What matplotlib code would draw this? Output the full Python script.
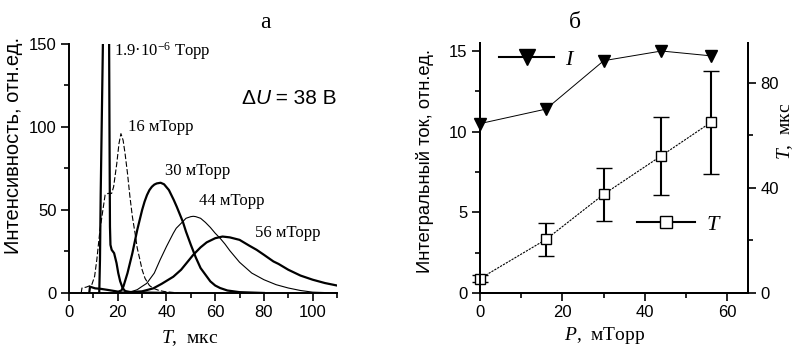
import matplotlib
matplotlib.use('Agg')
from matplotlib import pyplot as plt
from matplotlib.lines import Line2D
from matplotlib.ticker import MultipleLocator

plt.rcParams['font.family'] = ['Liberation Sans', 'DejaVu Sans']
plt.rcParams['mathtext.fontset'] = 'custom'
plt.rcParams['mathtext.rm'] = 'Liberation Serif'
plt.rcParams['mathtext.it'] = 'Liberation Serif:italic'

SERIF = ['Liberation Serif', 'DejaVu Serif']

# --- panel a: time-of-flight spectra ---
t_vac = [12.4, 12.7, 13.0, 13.4, 13.8, 14.1, 14.8, 15.8, 16.4, 16.6, 16.8, 17.0, 17.5,
         18.5, 19.5, 20.2, 21.0, 22.0, 23.0, 25.0, 30.0, 40.0]
i_vac = [0, 20, 60, 100, 140, 170, 400, 400, 170, 100, 40, 29, 26,
         24, 18, 12, 7, 3, 1.2, 0.6, 0.3, 0]

t_16 = [5.0, 5.3, 7.0, 9.3, 10.5, 11.4, 12.7, 14.1, 14.8, 16.0, 17.5, 18.3, 19.6, 20.5,
        21.3, 22.2, 23.0, 24.0, 25.0, 26.0, 27.1, 28.0, 29.1, 30.0, 31.2, 33.0, 34.6,
        37.0, 39.4, 45.0]
i_16 = [0, 3, 3.5, 4.8, 10, 20, 38, 52, 59, 60, 60, 64, 78, 90,
        96, 92, 84, 72, 58, 46, 36, 27, 20, 14, 8.8, 4.5, 2.8,
        1.5, 0.8, 0]

t_30 = [8.3, 8.6, 10.7, 13.0, 16.1, 20.2, 21.5, 22.3, 24.0, 26.0, 27.0, 28.0, 29.0, 30.0,
        31.0, 32.0, 33.0, 34.0, 35.0, 36.0, 37.6, 39.0, 41.0, 43.0, 44.2, 46.7, 48.0,
        50.0, 52.0, 54.0, 56.0, 58.0, 60.0, 62.0, 65.0, 70.0, 80.0]
i_30 = [0, 3.8, 2.8, 2.5, 1.8, 0.8, 1.5, 3.8, 12, 24, 31, 38, 44, 50,
        55, 59, 62, 64, 65.3, 66, 66.4, 65.5, 62, 56, 52, 43, 37,
        29, 21.5, 15, 11, 7, 4.5, 3, 1.5, 0.5, 0]

t_44 = [22, 25, 28, 30, 31.9, 35, 37.4, 40, 42.8, 44, 46.7, 48, 50, 51, 52, 54, 56, 58,
        60, 62, 64, 66, 68, 70, 75, 80, 85, 90, 95, 100, 110]
i_44 = [0, 0.5, 2, 4, 5.8, 12, 20, 28, 36, 39, 43, 45, 46, 46.2, 46, 45, 42.5, 39.5,
        36, 33, 29.5, 25.5, 22, 18.5, 12, 8, 5, 3, 1.5, 0.5, 0]

t_56 = [20, 25, 30, 34.6, 38, 42.8, 46, 51, 54, 56.5, 60, 63, 66, 70, 74, 77, 80, 83.9,
        86, 90, 95, 100, 105, 110]
i_56 = [0, 0.5, 1, 2.8, 5.5, 9.8, 14, 23, 27.5, 30.5, 33, 34, 33.5, 32, 28.5, 26, 23, 19,
        17.5, 14, 10.5, 8, 6, 4.5]

# --- panel b: integral current and time vs pressure ---
pressure = [0, 16, 30, 44, 56]
current = [10.5, 11.4, 14.4, 15.0, 14.7]
t_mean = [5.5, 20.4, 37.6, 52.3, 65.0]
t_err = [1.3, 6.3, 10.1, 14.8, 19.7]


def style_axes(ax):
    for s in ['left', 'bottom', 'right']:
        ax.spines[s].set_linewidth(1.4)
    ax.tick_params(which='both', direction='out', width=1.2, labelsize=12)
    ax.tick_params(which='major', length=5.5)
    ax.tick_params(which='minor', length=3.5)


fig = plt.figure(figsize=(7.99, 3.58), dpi=100)

# panel a
ax1 = fig.add_axes([0.0864, 0.1816, 0.3354, 0.6955])
ax1.plot(t_vac, i_vac, color='black', lw=1.6)
ax1.plot(t_16, i_16, color='black', lw=0.8, ls=(0, (5, 2)))
ax1.plot(t_30, i_30, color='black', lw=1.6)
ax1.plot(t_44, i_44, color='black', lw=0.8)
ax1.plot(t_56, i_56, color='black', lw=1.6)
ax1.set_xlim(0, 110)
ax1.set_ylim(0, 150)
ax1.xaxis.set_major_locator(MultipleLocator(20))
ax1.xaxis.set_minor_locator(MultipleLocator(10))
ax1.yaxis.set_major_locator(MultipleLocator(50))
ax1.yaxis.set_minor_locator(MultipleLocator(25))
ax1.spines['top'].set_visible(False)
ax1.spines['right'].set_visible(False)
style_axes(ax1)
ax1.set_xlabel(r'$T$,  мкс', fontsize=14, family=SERIF)
ax1.xaxis.label.set_va('center')
ax1.xaxis.set_label_coords(0.451, -0.18)
ax1.set_ylabel('Интенсивность, отн.ед.', fontsize=14.5)
ax1.yaxis.label.set_va('center')
ax1.yaxis.set_label_coords(-0.209, 0.594)

ax1.text(18.5, 146, r'1.9·10$^{-6}$ Торр', fontsize=12, family=SERIF, va='center')
ax1.text(24.2, 100, '16 мТорр', fontsize=12, family=SERIF, va='center')
ax1.text(39.4, 73.5, '30 мТорр', fontsize=12, family=SERIF, va='center')
ax1.text(53.4, 55.4, '44 мТорр', fontsize=12, family=SERIF, va='center')
ax1.text(76.4, 36, '56 мТорр', fontsize=12, family=SERIF, va='center')
# ΔU = 38 В, with italic U
d = ax1.text(70.6, 117, 'Δ', fontsize=15, va='center')
u = ax1.annotate('U', xy=(1, 0), xycoords=d, fontsize=15, style='italic', va='bottom')
ax1.annotate(' = 38 В', xy=(1, 0), xycoords=u, fontsize=15, va='bottom')

# panel b
ax2 = fig.add_axes([0.6008, 0.1816, 0.3354, 0.698])
ax3 = ax2.twinx()
ax2.plot(pressure, current, color='black', lw=0.7,
         marker='v', ms=8, mfc='black', mec='black', clip_on=False, zorder=3)
ax3.errorbar(pressure, t_mean, yerr=t_err, color='black', lw=0.8, ls=(0, (2, 1)),
             marker='s', ms=6.5, mfc='white', mec='black', mew=1,
             ecolor='black', elinewidth=1.5, capsize=6, capthick=1.5, clip_on=False)
ax2.set_xlim(0, 65)
ax2.set_ylim(0, 15.49)
ax3.set_ylim(0, 95.2)
ax2.xaxis.set_major_locator(MultipleLocator(20))
ax2.xaxis.set_minor_locator(MultipleLocator(10))
ax2.yaxis.set_major_locator(MultipleLocator(5))
ax2.yaxis.set_minor_locator(MultipleLocator(2.5))
ax3.yaxis.set_major_locator(MultipleLocator(40))
ax3.yaxis.set_minor_locator(MultipleLocator(20))
for a in (ax2, ax3):
    a.spines['top'].set_visible(False)
    style_axes(a)
ax2.set_xlabel(r'$P$,  мТорр', fontsize=14, family=SERIF)
ax2.xaxis.label.set_va('center')
ax2.xaxis.set_label_coords(0.466, -0.17)
ax2.set_ylabel('Интегральный ток, отн.ед.', fontsize=13.2)
ax2.yaxis.label.set_va('center')
ax2.yaxis.set_label_coords(-0.205, 0.527)
ax3.set_ylabel(r'$T$,  мкс', fontsize=14, family=SERIF, rotation=90)
ax3.yaxis.label.set_va('center')
ax3.yaxis.set_label_coords(1.138, 0.647)

h_i = Line2D([], [], color='black', lw=1.5, marker='v', ms=11, mfc='black')
h_t = Line2D([], [], color='black', lw=1.5, marker='s', ms=8, mfc='white', mew=1)
leg1 = ax2.legend([h_i], [r'$I$'], loc='center left', bbox_to_anchor=(0.07, 0.936),
                  frameon=False, fontsize=16, handlelength=2.5, handletextpad=0.5,
                  borderpad=0, borderaxespad=0)
ax2.add_artist(leg1)
ax2.legend([h_t], [r'$T$'], loc='center left', bbox_to_anchor=(0.586, 0.276),
           frameon=False, fontsize=16, handlelength=2.6, handletextpad=0.5,
           borderpad=0, borderaxespad=0)

fig.text(265 / 799, 1 - 22 / 358, 'а', fontsize=17, family=SERIF, ha='center', va='center')
fig.text(575 / 799, 1 - 22 / 358, 'б', fontsize=17, family=SERIF, ha='center', va='center')

plt.savefig('out.png', dpi=100)
plt.close()
